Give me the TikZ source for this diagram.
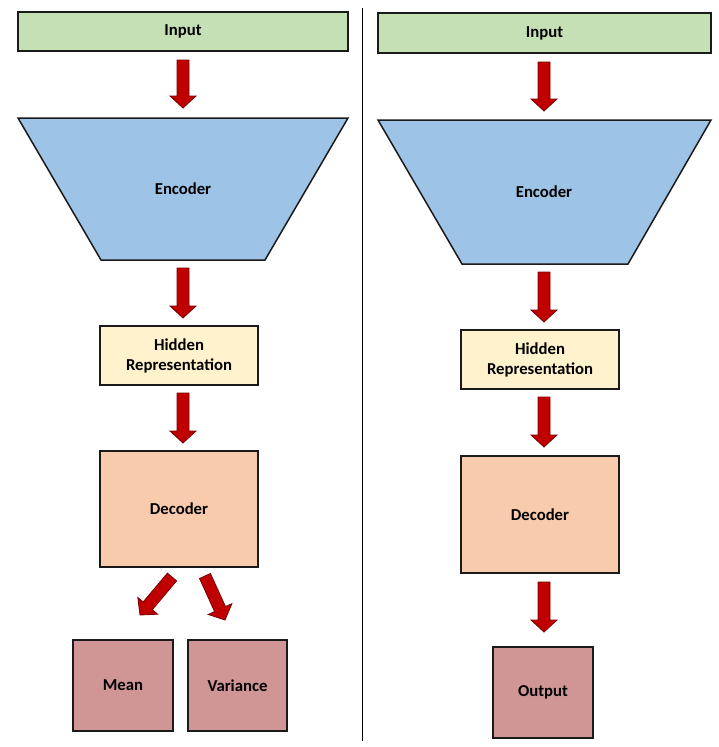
\documentclass[tikz,border=0pt]{standalone}
\usepackage{fontspec}
\setmainfont{Carlito}
\usetikzlibrary{calc}
\definecolor{inpc}{HTML}{C5E0B4}
\definecolor{encc}{HTML}{9DC3E6}
\definecolor{hidc}{HTML}{FFF2CC}
\definecolor{decc}{HTML}{F8CBAD}
\definecolor{outc}{HTML}{D09595}
\definecolor{arrf}{HTML}{C00000}
\definecolor{arrd}{HTML}{7A0000}
\definecolor{edgec}{HTML}{1A1A1A}
\newcommand\blkarrow[2]{%
  \draw[blockarr] ($(#1)!6pt!90:(#2)$) -- ($(#2)!12pt!(#1)!6pt!90:(#2)$) -- ($(#2)!12pt!(#1)!13pt!90:(#2)$) -- (#2) -- ($(#2)!12pt!(#1)!13pt!-90:(#2)$) -- ($(#2)!12pt!(#1)!6pt!-90:(#2)$) -- ($(#1)!6pt!-90:(#2)$) -- cycle;}
\begin{document}
\begin{tikzpicture}[x=1pt,y=-1pt,
  box/.style={draw=edgec, line width=1.5pt, inner sep=0pt, align=center, font=\fontsize{16.7}{20}\selectfont\bfseries},
  inbox/.style={box, fill=inpc},
  hidbox/.style={box, fill=hidc},
  decbox/.style={box, fill=decc},
  outbox/.style={box, fill=outc},
  trap/.style={draw=edgec, line width=1.5pt, fill=encc},
  lbl/.style={font=\fontsize{16.7}{20}\selectfont\bfseries},
  blockarr/.style={fill=arrf, draw=arrd, line width=0.8pt, line join=miter}]
\useasboundingbox (0,0) rectangle (719,747);
% divider
\draw[line width=1pt] (362,8) -- (362,741);
% ---------- left ----------
\node[inbox, minimum width=330pt, minimum height=39pt] (inp) at (183,31.5) {Input};
\draw[trap] (18,118) -- (348,118) -- (265,260) -- (101,260) -- cycle;
\node[lbl] (enc) at (183,189) {Encoder};
\node[hidbox, minimum width=158pt, minimum height=59pt] (hid) at (179,355.5) {Hidden\\Representation};
\node[decbox, minimum width=158pt, minimum height=116pt] (dec) at (179,509) {Decoder};
\node[outbox, minimum width=100pt, minimum height=91pt] (mean) at (123,685.5) {Mean};
\node[outbox, minimum width=99pt, minimum height=91pt] (var) at (237.5,685.5) {Variance};
\coordinate (a1s) at (183,60);  \coordinate (a1e) at (183,108);
\coordinate (a2s) at (183,268); \coordinate (a2e) at (183,318);
\coordinate (a3s) at (183,393); \coordinate (a3e) at (183,443);
\coordinate (a4s) at (172,577); \coordinate (a4e) at (140,615);
\coordinate (a5s) at (205,576); \coordinate (a5e) at (225,620);
\blkarrow{a1s}{a1e}
\blkarrow{a2s}{a2e}
\blkarrow{a3s}{a3e}
\blkarrow{a4s}{a4e}
\blkarrow{a5s}{a5e}
% ---------- right ----------
\node[inbox, minimum width=333pt, minimum height=40pt] (inp2) at (544.5,33) {Input};
\draw[trap] (378,120) -- (711,120) -- (628,264) -- (462,264) -- cycle;
\node[lbl] (enc2) at (544,192) {Encoder};
\node[hidbox, minimum width=158pt, minimum height=59pt] (hid2) at (540,359.5) {Hidden\\Representation};
\node[decbox, minimum width=158pt, minimum height=117pt] (dec2) at (540,514.5) {Decoder};
\node[outbox, minimum width=100pt, minimum height=91pt] (out) at (543,692.5) {Output};
\coordinate (b1s) at (544,62);  \coordinate (b1e) at (544,111);
\coordinate (b2s) at (544,272); \coordinate (b2e) at (544,322);
\coordinate (b3s) at (544,397); \coordinate (b3e) at (544,447);
\coordinate (b4s) at (544,582); \coordinate (b4e) at (544,632);
\blkarrow{b1s}{b1e}
\blkarrow{b2s}{b2e}
\blkarrow{b3s}{b3e}
\blkarrow{b4s}{b4e}
\end{tikzpicture}
\end{document}
